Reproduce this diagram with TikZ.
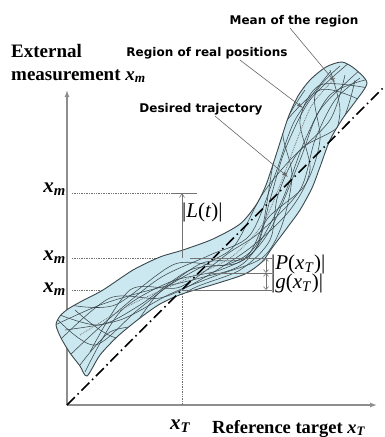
\documentclass[tikz,border=0pt]{standalone}
\usepackage{fontspec}
\setmainfont{Liberation Serif}
\newfontfamily\notefont{DejaVu Sans}
\usetikzlibrary{arrows.meta, positioning}
\definecolor{bandFill}{HTML}{CBE7EF}
\definecolor{bandLine}{HTML}{3A474C}
\definecolor{axisGray}{HTML}{8E8E8E}
\newcommand{\vx}[1]{\textit{x}\textsubscript{\textit{#1}}}
\newcommand{\regionpath}{plot[smooth cycle, tension=0.45] coordinates {
  (87,376) (80,366) (70,353) (61,338) (56,325) (60,316) (68,309) (82,301)
  (103,290) (133,270) (160,257) (183,250) (213,239) (240,224) (256,205)
  (266,185) (277,152) (288,118) (298,96) (310,80) (326,67) (342,62)
  (355,69) (367,83) (355,102) (343,118) (330,140) (320,167) (312,188)
  (300,210) (287,228) (272,248) (262,262) (245,274) (215,284) (182,294)
  (160,304) (140,318) (118,336) (100,355)}}

\begin{document}
\begin{tikzpicture}[x=1pt, y=-1pt,
  axis/.style={draw=axisGray, line width=1.3pt, -{Latex[length=7pt,width=5pt]}},
  note/.style={font=\notefont\bfseries\fontsize{12}{12}\selectfont, inner sep=1pt},
  pointer/.style={draw=black!60, line width=0.6pt, -{Latex[length=6pt,width=4pt]}},
  axlabel/.style={font=\bfseries\fontsize{19}{19}\selectfont, inner sep=0pt},
  ticklabel/.style={font=\bfseries\itshape\fontsize{21}{21}\selectfont, inner sep=0pt},
  measlabel/.style={font=\fontsize{21}{21}\selectfont, inner sep=0pt},
  guide/.style={draw=black!55, densely dotted, line width=0.7pt},
  measure/.style={draw=black!55, line width=0.6pt},
  traj/.style={draw=bandLine, line width=0.55pt},
  desired/.style={draw=black, line width=1.6pt,
                  dash pattern=on 11pt off 4pt on 1.5pt off 4pt},
]
  \useasboundingbox (0,0) rectangle (385,437);

  % axes
  \coordinate (O) at (67,405);
  \coordinate (ytop) at (67,90);
  \coordinate (xend) at (377,405);
  \draw[axis] (O) -- (ytop);
  \draw[axis] (O) -- (xend);

  % guide lines
  \coordinate (g1l) at (72,193);  \coordinate (g1r) at (173,193);
  \coordinate (g2l) at (72,258);  \coordinate (g2r) at (182,258);
  \coordinate (g3l) at (72,290);  \coordinate (g3r) at (182,290);
  \coordinate (xTfoot) at (182,405);
  \coordinate (Ltop) at (182,193);
  \coordinate (Lbar) at (197,193);
  \draw[guide] (g1l) -- (g1r);
  \draw[guide] (g2l) -- (g2r);
  \draw[guide] (g3l) -- (g3r);
  \draw[guide] (xTfoot) -- (g2r);

  % region of real positions
  \fill[bandFill] \regionpath;
  \begin{scope}
    \clip \regionpath;
    \draw[traj] plot[smooth] coordinates {(55,325) (100,305) (150,290) (200,278) (245,262) (280,205) (305,140) (330,95) (365,80)};
    \draw[traj] plot[smooth] coordinates {(70,355) (110,318) (160,278) (210,255) (250,235) (275,175) (295,120) (330,72)};
    \draw[traj] plot[smooth] coordinates {(60,315) (100,325) (140,305) (190,270) (240,262) (270,230) (300,160) (320,110) (360,70)};
    \draw[traj] plot[smooth] coordinates {(85,372) (120,312) (170,282) (220,270) (255,250) (270,200) (285,150) (310,100) (350,62)};
    \draw[traj] plot[smooth] coordinates {(60,340) (110,298) (160,298) (200,280) (250,248) (290,210) (310,170) (300,120) (320,85) (368,88)};
    \draw[traj] plot[smooth] coordinates {(75,310) (120,338) (160,292) (210,262) (235,245) (262,195) (290,160) (330,120) (345,75)};
    \draw[traj] plot[smooth] coordinates {(90,352) (130,290) (180,287) (230,252) (260,232) (300,190) (315,140) (335,100) (360,78)};
    \draw[traj] plot[smooth] coordinates {(65,330) (120,320) (170,294) (215,276) (262,258) (282,225) (292,175) (283,130) (305,90)};
    \draw[traj] plot[smooth] coordinates {(80,365) (110,332) (150,322) (190,290) (240,270) (270,240) (278,195) (300,150) (340,125) (355,80)};
    \draw[traj] plot[smooth] coordinates {(58,320) (95,345) (140,308) (200,264) (245,258) (268,218) (305,185) (320,140) (315,95) (340,66)};
    \draw[traj] plot[smooth] coordinates {(70,305) (115,305) (175,264) (225,265) (258,242) (272,170) (280,130) (320,90) (360,100)};
    \draw[traj] plot[smooth] coordinates {(95,365) (125,340) (165,305) (205,292) (265,262) (300,215) (330,150) (340,110) (330,70)};
    \draw[draw=black!55, densely dotted, line width=0.8pt] plot[smooth] coordinates {(80,335) (130,305) (180,282) (230,258) (262,225) (280,185) (297,140) (312,105) (335,78)};
  \end{scope}
  \draw[bandLine, line width=0.9pt] \regionpath;

  % desired trajectory
  \coordinate (dend) at (385,86);
  \draw[desired] (O) -- (dend);

  % measures
  \coordinate (Pl) at (190,258);  \coordinate (Pr) at (272,258);
  \coordinate (Ml) at (205,273);  \coordinate (Mr) at (272,273);
  \coordinate (Gl) at (182,290);  \coordinate (Gr) at (272,290);
  \coordinate (Ptop) at (266,258); \coordinate (Pmid) at (266,273); \coordinate (Gbot) at (266,290);
  \draw[measure] (Pl) -- (Pr);
  \draw[measure] (Ml) -- (Mr);
  \draw[measure] (Gl) -- (Gr);
  \draw[measure] (g1r) -- (Lbar);
  \draw[measure, -{Straight Barb[length=4pt,width=5pt]}] (g2r) -- (Ltop);
  \draw[measure, {Straight Barb[length=3pt,width=5pt]}-{Straight Barb[length=3pt,width=5pt]}] (Ptop) -- (Pmid);
  \draw[measure, {Straight Barb[length=3pt,width=5pt]}-{Straight Barb[length=3pt,width=5pt]}] (Pmid) -- (Gbot);

  % labels
  \node[axlabel, anchor=base west] (ext) at (11,57) {External};
  \node[axlabel, anchor=base west] (meas) at (11,80) {measurement \vx{m}};
  \node[axlabel, anchor=base west, font=\bfseries\fontsize{18.5}{18.5}\selectfont] (reft) at (212,433) {Reference target \vx{T}};
  \node[ticklabel, anchor=base] (xTlbl) at (180,429) {\vx{T}};
  \node[ticklabel, anchor=base east] (ym1) at (66,192) {\vx{m}};
  \node[ticklabel, anchor=base east] (ym2) at (66,260) {\vx{m}};
  \node[ticklabel, anchor=base east] (ym3) at (66,292) {\vx{m}};
  \node[measlabel, anchor=west] (Llbl) at (182,212) {|\textit{L}(\textit{t})|};
  \node[measlabel, anchor=west] (Plbl) at (271,264) {|\textit{P}(\vx{T})|};
  \node[measlabel, anchor=west] (Glbl) at (271,283) {|\textit{g}(\vx{T})|};

  % pointers
  \node[note] (mean) at (294,21) {Mean of the region};
  \node[note] (real) at (207,53) {Region of real positions};
  \node[note] (des) at (201,109) {Desired trajectory};
  \coordinate (meanpt) at (335,82);
  \coordinate (realpt) at (303,108);
  \coordinate (despt) at (288,177);
  \draw[pointer] (mean.south) ++(-4,0) -- (meanpt);
  \draw[pointer] (real.south) ++(33,0) -- (realpt);
  \draw[pointer] (des.south) ++(14,0) -- (despt);
\end{tikzpicture}
\end{document}
